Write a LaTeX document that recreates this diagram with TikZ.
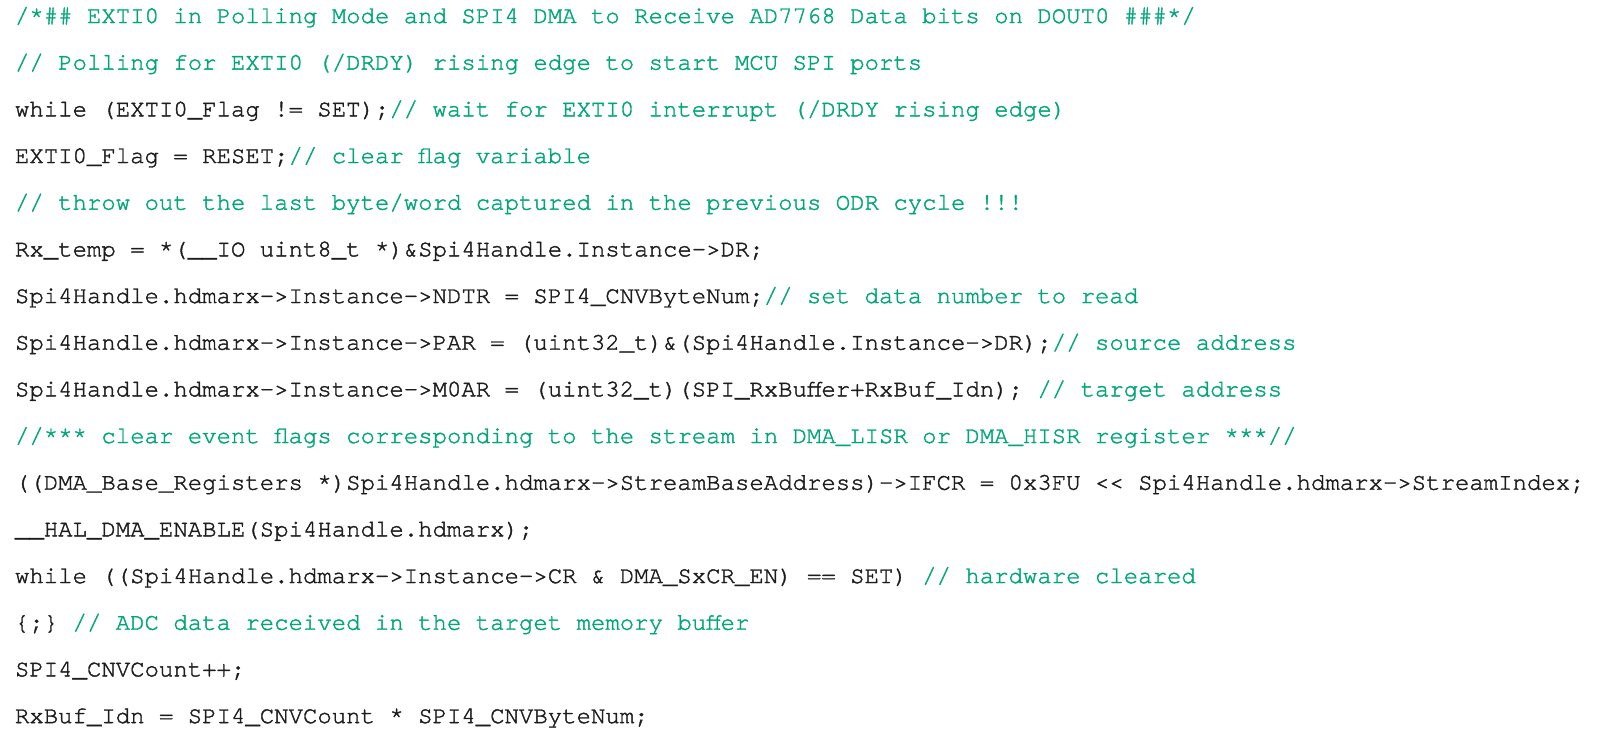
\documentclass[tikz,border=0pt]{standalone}
\usepackage{fontspec}
\setmonofont[FakeBold=1.6]{TeX Gyre Cursor}
\definecolor{cgreen}{RGB}{0,166,122}
\definecolor{cblack}{RGB}{30,28,28}
\newcommand\gc[1]{\textcolor{cgreen}{#1}}
\begin{document}
\begin{tikzpicture}[x=1pt,y=1pt,
  codeline/.style={anchor=base west,inner sep=0pt,outer sep=0pt,text=cblack,
    font=\ttfamily\fontsize{24pt}{24pt}\selectfont}]
\useasboundingbox (0,0) rectangle (1604,-737);
\def\lx{15}
\def\ly#1{-23-#1*46.67}
\node[codeline] (l1)  at (\lx,{\ly{0}})  {\gc{/*\#\# EXTI0 in Polling Mode and SPI4 DMA to Receive AD7768 Data bits on DOUT0 \#\#\#*/}};
\node[codeline] (l2)  at (\lx,{\ly{1}})  {\gc{// Polling for EXTI0 (/DRDY) rising edge to start MCU SPI ports}};
\node[codeline] (l3)  at (\lx,{\ly{2}})  {while (EXTI0\_Flag != SET);\gc{// wait for EXTI0 interrupt (/DRDY rising edge)}};
\node[codeline] (l4)  at (\lx,{\ly{3}})  {EXTI0\_Flag = RESET;\gc{// clear flag variable}};
\node[codeline] (l5)  at (\lx,{\ly{4}})  {\gc{// throw out the last byte/word captured in the previous ODR cycle !!!}};
\node[codeline] (l6)  at (\lx,{\ly{5}})  {Rx\_temp = *(\_\_IO uint8\_t *)\&Spi4Handle.Instance->DR;};
\node[codeline] (l7)  at (\lx,{\ly{6}})  {Spi4Handle.hdmarx->Instance->NDTR = SPI4\_CNVByteNum;\gc{// set data number to read}};
\node[codeline] (l8)  at (\lx,{\ly{7}})  {Spi4Handle.hdmarx->Instance->PAR = (uint32\_t)\&(Spi4Handle.Instance->DR);\gc{// source address}};
\node[codeline] (l9)  at (\lx,{\ly{8}})  {Spi4Handle.hdmarx->Instance->M0AR = (uint32\_t)(SPI\_RxBuffer+RxBuf\_Idn); \gc{// target address}};
\node[codeline] (l10) at (\lx,{\ly{9}})  {\gc{//*** clear event flags corresponding to the stream in DMA\_LISR or DMA\_HISR register ***//}};
\node[codeline] (l11) at (\lx,{\ly{10}}) {((DMA\_Base\_Registers *)Spi4Handle.hdmarx->StreamBaseAddress)->IFCR = 0x3FU << Spi4Handle.hdmarx->StreamIndex;};
\node[codeline] (l12) at (\lx,{\ly{11}}) {\_\_HAL\_DMA\_ENABLE(Spi4Handle.hdmarx);};
\node[codeline] (l13) at (\lx,{\ly{12}}) {while ((Spi4Handle.hdmarx->Instance->CR \& DMA\_SxCR\_EN) == SET) \gc{// hardware cleared}};
\node[codeline] (l14) at (\lx,{\ly{13}}) {\{;\} \gc{// ADC data received in the target memory buffer}};
\node[codeline] (l15) at (\lx,{\ly{14}}) {SPI4\_CNVCount++;};
\node[codeline] (l16) at (\lx,{\ly{15}}) {RxBuf\_Idn = SPI4\_CNVCount * SPI4\_CNVByteNum;};
\end{tikzpicture}
\end{document}
